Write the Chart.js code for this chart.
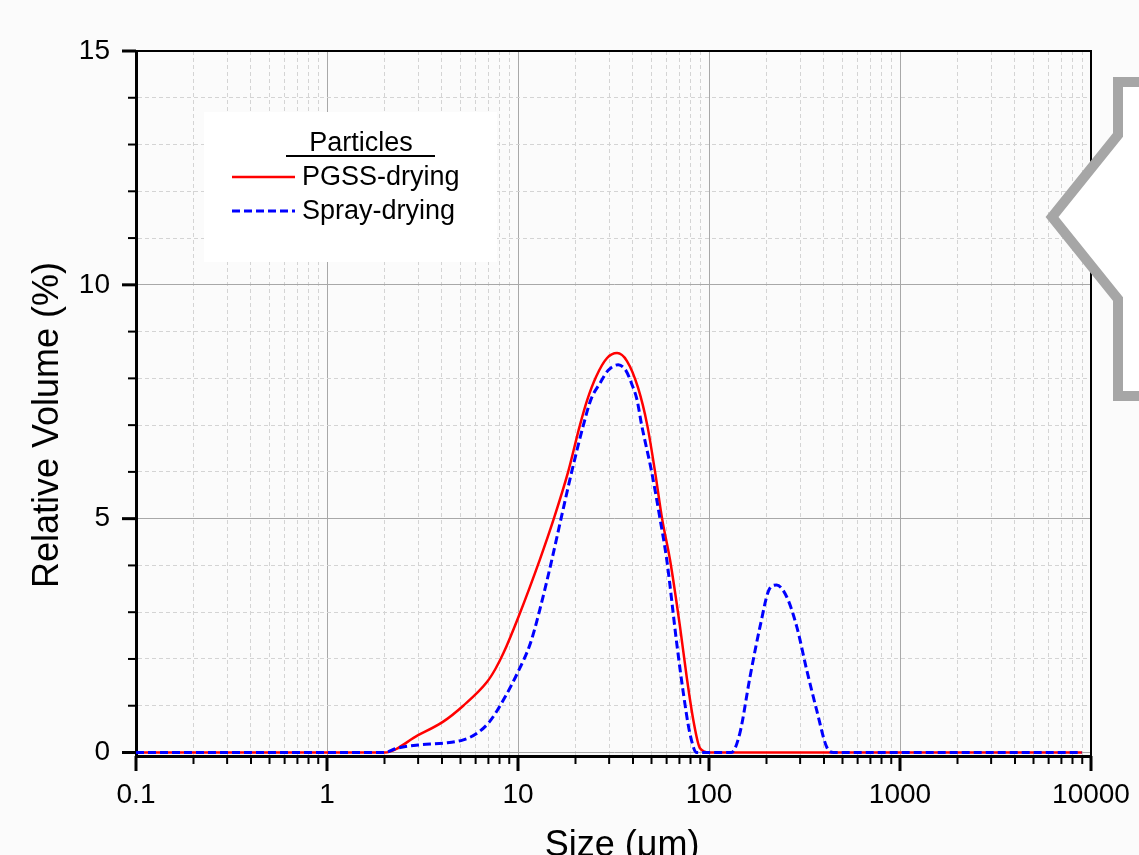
<!DOCTYPE html>
<html>
<head>
<meta charset="utf-8">
<script src="https://cdn.jsdelivr.net/npm/chart.js@4"></script>
<style>
  html, body { margin: 0; padding: 0; background: #fbfbfb; }
  canvas { display: block; }
</style>
</head>
<body>
<canvas id="chart1" width="1139" height="855"></canvas>
<script>
// particle size distribution (size in um, relative volume in %)
const pgssSize = [0.1, 1, 2.0, 3.0, 4.06, 5.17, 6.86, 7.6, 8.38, 10.1, 13.0, 15.4, 18.3, 21.1, 23.0, 25.6, 29.2, 33.0, 37.2, 42.5, 47.5, 52.2, 56.8, 62.5, 70.5, 76.4, 82.8, 89.7, 100, 1000, 8970];
const pgssVolume = [0, 0, 0, 0.37, 0.66, 1.0, 1.5, 1.78, 2.12, 2.92, 4.12, 5.0, 6.0, 7.0, 7.53, 8.03, 8.43, 8.54, 8.37, 7.8, 7.0, 6.0, 5.0, 4.12, 2.69, 1.62, 0.69, 0.09, 0, 0, 0];

const spraySize = [0.1, 1, 2.0, 2.32, 3.0, 4.06, 5.17, 6.1, 7.1, 8.38, 10.1, 11.6, 13.0, 14.9, 16.8, 19.1, 22.0, 24.1, 26.9, 29.6, 33.5, 36.8, 39.4, 42.0, 44.4, 50.1, 55.4, 60.1, 67.8, 73.4, 79.4, 86.2, 131, 145, 164, 185, 208, 226, 255, 288, 325, 366, 413, 448, 1000, 8970];
const sprayVolume = [0, 0, 0, 0.09, 0.16, 0.2, 0.27, 0.41, 0.66, 1.12, 1.76, 2.33, 3.05, 4.05, 5.0, 6.0, 7.0, 7.55, 7.9, 8.17, 8.29, 8.16, 7.88, 7.54, 7.0, 6.0, 5.0, 4.12, 2.33, 1.27, 0.41, 0, 0, 0.41, 1.62, 2.69, 3.51, 3.58, 3.33, 2.69, 1.76, 0.91, 0.12, 0, 0, 0];

const xTickLabels = [0.1, 1, 10, 100, 1000, 10000];
const yTickLabels = [0, 5, 10, 15];

const FONT = "'Liberation Sans', Arial, sans-serif";

// every 1..9 step in each decade, plus 0..15 on y
const xTickValues = [];
xTickLabels.slice(0, -1).forEach(d => {
  for (let m = 1; m <= 9; m++) xTickValues.push(+(d * m).toFixed(1));
});
xTickValues.push(10000);
const yTickValues = [];
for (let v = 0; v <= 15; v++) yTickValues.push(v);

const toPoints = (xs, ys) => xs.map((x, i) => ({x: x, y: ys[i]}));

const isMajorX = c => c.tick && xTickLabels.includes(c.tick.value);
const isMajorY = c => c.tick && yTickLabels.includes(c.tick.value);

const extras = {
  id: 'extras',
  beforeDraw(chart) {
    const ctx = chart.ctx;
    ctx.save();
    ctx.fillStyle = '#fbfbfb';
    ctx.fillRect(0, 0, chart.width, chart.height);
    ctx.restore();
  },
  afterDraw(chart) {
    const ctx = chart.ctx;
    const xs = chart.scales.x, ys = chart.scales.y;
    const a = chart.chartArea;
    ctx.save();

    // frame on top and right
    ctx.strokeStyle = '#000';
    ctx.lineWidth = 2;
    ctx.beginPath();
    ctx.moveTo(a.left, a.top);
    ctx.lineTo(a.right, a.top);
    ctx.lineTo(a.right, a.bottom);
    ctx.stroke();

    // tick marks, long at labelled values
    xs.ticks.forEach(t => {
      const px = xs.getPixelForValue(t.value);
      const major = xTickLabels.includes(t.value);
      ctx.lineWidth = major ? 3 : 2;
      ctx.beginPath();
      ctx.moveTo(px, a.bottom);
      ctx.lineTo(px, a.bottom + (major ? 15 : 8));
      ctx.stroke();
    });
    ys.ticks.forEach(t => {
      const py = ys.getPixelForValue(t.value);
      const major = yTickLabels.includes(t.value);
      ctx.lineWidth = major ? 3 : 2;
      ctx.beginPath();
      ctx.moveTo(a.left, py);
      ctx.lineTo(a.left - (major ? 14 : 8), py);
      ctx.stroke();
    });

    // legend
    ctx.fillStyle = '#ffffff';
    ctx.fillRect(204, 112, 293, 150);
    ctx.fillStyle = '#000';
    ctx.font = '27px ' + FONT;
    ctx.textAlign = 'center';
    ctx.textBaseline = 'alphabetic';
    ctx.fillText('Particles', 361, 151);
    ctx.lineWidth = 2;
    ctx.beginPath();
    ctx.moveTo(286, 156);
    ctx.lineTo(435, 156);
    ctx.stroke();
    ctx.textAlign = 'left';
    chart.data.datasets.forEach((ds, i) => {
      const ly = 177 + i * 34;
      ctx.strokeStyle = ds.borderColor;
      ctx.lineWidth = ds.borderWidth;
      ctx.setLineDash(ds.borderDash || []);
      ctx.beginPath();
      ctx.moveTo(232, ly);
      ctx.lineTo(295, ly);
      ctx.stroke();
      ctx.setLineDash([]);
      ctx.fillText(ds.label, 302, ly + 8);
    });

    // axis titles
    ctx.font = '36px ' + FONT;
    ctx.textAlign = 'center';
    ctx.fillText('Size (\u03bcm)', 622, 856);
    ctx.save();
    ctx.translate(58, 425);
    ctx.rotate(-Math.PI / 2);
    ctx.fillText('Relative Volume (%)', 0, 0);
    ctx.restore();

    // grey bracket at the right edge
    ctx.beginPath();
    ctx.moveTo(1145, 82);
    ctx.lineTo(1118, 82);
    ctx.lineTo(1118, 135);
    ctx.lineTo(1052, 217);
    ctx.lineTo(1118, 299);
    ctx.lineTo(1118, 396);
    ctx.lineTo(1145, 396);
    ctx.closePath();
    ctx.fillStyle = '#ffffff';
    ctx.fill();
    ctx.strokeStyle = '#a6a6a6';
    ctx.lineWidth = 10;
    ctx.lineJoin = 'miter';
    ctx.stroke();

    ctx.restore();
  }
};

const ctx1 = document.getElementById('chart1');

new Chart(ctx1, {
  type: 'scatter',
  data: {
    datasets: [{
      label: 'PGSS-drying',
      data: toPoints(pgssSize, pgssVolume),
      showLine: true,
      borderColor: '#ff0000',
      borderWidth: 2.5,
      pointRadius: 0,
      cubicInterpolationMode: 'monotone',
      order: 1
    }, {
      label: 'Spray-drying',
      data: toPoints(spraySize, sprayVolume),
      showLine: true,
      borderColor: '#0000ff',
      borderWidth: 3,
      borderDash: [8, 4],
      pointRadius: 0,
      cubicInterpolationMode: 'monotone',
      order: 0
    }]
  },
  options: {
    responsive: false,
    animation: false,
    layout: { padding: { top: 51, right: 48, bottom: 0, left: 0 } },
    plugins: { legend: { display: false }, tooltip: { enabled: false } },
    scales: {
      x: {
        type: 'logarithmic',
        min: 0.1,
        max: 10000,
        afterBuildTicks: s => { s.ticks = xTickValues.map(v => ({value: v})); },
        afterFit: s => { s.height = 99; s.paddingLeft = 0; s.paddingRight = 0; },
        ticks: {
          autoSkip: false,
          maxRotation: 0,
          padding: 22,
          color: '#000',
          font: { family: FONT, size: 28 },
          callback: v => xTickLabels.includes(v) ? String(v) : ''
        },
        grid: {
          drawTicks: false,
          color: c => isMajorX(c) ? '#a8a8a8' : '#d4d4d4',
          lineWidth: 1
        },
        border: {
          color: '#000',
          width: 3,
          dash: c => isMajorX(c) ? [] : [4, 3]
        }
      },
      y: {
        min: -0.075,
        max: 15,
        afterBuildTicks: s => { s.ticks = yTickValues.map(v => ({value: v})); },
        afterFit: s => { s.width = 136; },
        ticks: {
          autoSkip: false,
          padding: 26,
          color: '#000',
          font: { family: FONT, size: 28 },
          callback: v => yTickLabels.includes(v) ? String(v) : ''
        },
        grid: {
          drawTicks: false,
          color: c => isMajorY(c) ? '#a8a8a8' : '#d4d4d4',
          lineWidth: 1
        },
        border: {
          color: '#000',
          width: 3,
          dash: c => isMajorY(c) ? [] : [4, 3]
        }
      }
    }
  },
  plugins: [extras]
});
</script>
</body>
</html>
